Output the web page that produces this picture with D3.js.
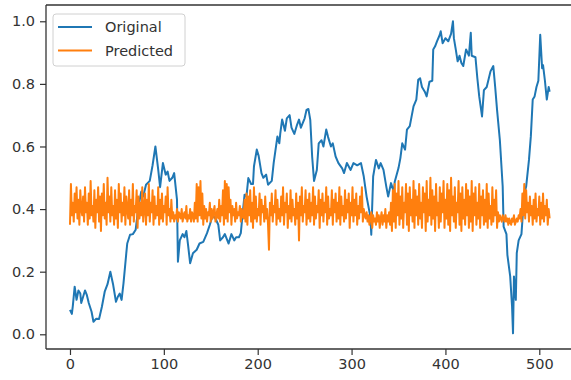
<!DOCTYPE html>
<html>
<head>
<meta charset="utf-8">
<script src="https://cdn.jsdelivr.net/npm/d3@7"></script>
<style>
  body { margin: 0; background: #fff; }
  svg { display: block; font-family: "DejaVu Sans", sans-serif; }
</style>
</head>
<body>
<div id="root"></div>
<script>
// "Original" series: [index, value]
const original = [
  [0,0.078],[2,0.065],[3,0.09],[5,0.152],[7,0.11],[9,0.14],[11,0.13],[12,0.10],[14,0.12],[16,0.14],
  [18,0.125],[20,0.10],[23,0.072],[25,0.04],[28,0.05],[31,0.049],[34,0.088],[37,0.136],[40,0.16],[43,0.2],
  [46,0.158],[49,0.104],[51,0.12],[53,0.13],[55,0.11],[57,0.163],[60,0.259],[61,0.29],[64,0.318],[67,0.32],
  [70,0.334],[73,0.41],[76,0.456],[78,0.44],[81,0.478],[85,0.49],[88,0.54],[91,0.60],[94,0.526],[96,0.47],
  [99,0.547],[102,0.51],[104,0.52],[106,0.49],[109,0.50],[111,0.515],[114,0.43],[115,0.232],[117,0.30],[120,0.32],
  [122,0.31],[124,0.33],[126,0.28],[128,0.227],[131,0.259],[135,0.27],[138,0.29],[142,0.295],[146,0.323],[149,0.35],
  [152,0.38],[155,0.37],[158,0.35],[160,0.30],[163,0.31],[165,0.32],[169,0.29],[172,0.32],[175,0.30],[177,0.31],
  [180,0.31],[182,0.323],[184,0.387],[186,0.446],[188,0.44],[190,0.499],[193,0.48],[195,0.48],[196,0.536],[199,0.59],
  [201,0.57],[204,0.515],[206,0.50],[209,0.51],[211,0.478],[215,0.49],[217,0.547],[221,0.632],[223,0.61],[224,0.64],
  [226,0.686],[227,0.675],[229,0.65],[231,0.69],[234,0.70],[236,0.66],[239,0.64],[242,0.67],[244,0.686],[246,0.66],
  [250,0.69],[252,0.717],[254,0.72],[256,0.685],[258,0.568],[260,0.49],[263,0.525],[265,0.61],[268,0.62],[270,0.60],
  [273,0.654],[275,0.63],[278,0.60],[280,0.61],[283,0.568],[286,0.547],[290,0.53],[292,0.515],[295,0.547],[299,0.525],
  [302,0.547],[306,0.54],[310,0.547],[313,0.504],[316,0.44],[320,0.376],[321,0.318],[323,0.504],[326,0.557],[329,0.53],
  [331,0.547],[334,0.525],[337,0.472],[339,0.44],[342,0.483],[345,0.455],[346,0.487],[350,0.531],[352,0.563],[354,0.61],
  [357,0.59],[359,0.654],[362,0.665],[366,0.728],[369,0.75],[371,0.813],[373,0.818],[375,0.79],[378,0.775],[380,0.76],
  [383,0.807],[386,0.81],[387,0.91],[389,0.92],[391,0.936],[394,0.957],[395,0.968],[397,0.93],[400,0.946],[403,0.936],
  [406,0.96],[408,1.0],[409,0.946],[411,0.91],[413,0.872],[415,0.89],[417,0.867],[419,0.857],[422,0.91],[425,0.89],
  [427,0.963],[428,0.89],[432,0.885],[434,0.818],[436,0.76],[439,0.696],[441,0.78],[444,0.79],[448,0.84],[451,0.857],
  [453,0.79],[455,0.717],[458,0.62],[461,0.472],[462,0.344],[465,0.32],[466,0.254],[469,0.185],[471,0.088],[472,0.003],
  [473,0.185],[475,0.11],[476,0.259],[478,0.30],[481,0.32],[484,0.45],[486,0.472],[489,0.557],[491,0.633],[493,0.75],
  [495,0.76],[497,0.79],[499,0.81],[501,0.957],[503,0.85],[504,0.86],[506,0.81],[508,0.75],[510,0.79],[511,0.775]
];

// "Predicted" series, one value per index 0..511
const predicted = [
  0.35,0.48,0.38,0.42,0.36,0.45,0.39,0.47,0.37,0.43,0.35,0.46,0.40,0.38,0.44,0.36,
  0.47,0.39,0.42,0.35,0.45,0.37,0.49,0.38,0.41,0.36,0.46,0.34,0.43,0.39,0.47,0.36,
  0.44,0.33,0.45,0.38,0.48,0.37,0.42,0.35,0.50,0.39,0.44,0.36,0.47,0.38,0.41,0.35,
  0.46,0.37,0.43,0.34,0.48,0.39,0.45,0.36,0.42,0.38,0.47,0.35,0.44,0.40,0.37,0.46,
  0.35,0.43,0.38,0.48,0.36,0.41,0.39,0.46,0.34,0.44,0.37,0.42,0.38,0.47,0.36,0.40,
  0.45,0.35,0.43,0.38,0.48,0.36,0.42,0.39,0.46,0.35,0.44,0.37,0.41,0.38,0.47,0.35,
  0.43,0.37,0.45,0.36,0.41,0.39,0.44,0.35,0.47,0.38,0.40,0.36,0.43,0.37,0.39,0.36,
  0.38,0.37,0.40,0.36,0.39,0.38,0.37,0.40,0.36,0.38,0.39,0.37,0.41,0.36,0.38,0.37,
  0.40,0.36,0.39,0.38,0.36,0.42,0.37,0.48,0.36,0.47,0.38,0.49,0.37,0.45,0.35,0.41,
  0.37,0.40,0.36,0.39,0.38,0.42,0.36,0.40,0.37,0.39,0.41,0.36,0.38,0.40,0.37,0.43,
  0.36,0.41,0.38,0.46,0.35,0.49,0.37,0.48,0.36,0.47,0.39,0.43,0.35,0.41,0.38,0.40,
  0.36,0.42,0.37,0.39,0.38,0.41,0.36,0.40,0.38,0.37,0.43,0.36,0.45,0.35,0.44,0.38,
  0.46,0.36,0.42,0.34,0.47,0.37,0.44,0.36,0.40,0.38,0.45,0.35,0.43,0.39,0.41,0.36,
  0.44,0.37,0.40,0.35,0.27,0.42,0.38,0.45,0.36,0.41,0.39,0.46,0.35,0.43,0.37,0.40,
  0.36,0.44,0.38,0.47,0.35,0.42,0.39,0.45,0.34,0.41,0.37,0.46,0.36,0.43,0.38,0.40,
  0.35,0.45,0.37,0.42,0.30,0.44,0.38,0.47,0.36,0.41,0.39,0.46,0.35,0.43,0.37,0.45,
  0.36,0.42,0.38,0.47,0.35,0.44,0.37,0.41,0.39,0.46,0.34,0.43,0.38,0.45,0.36,0.42,
  0.39,0.47,0.35,0.44,0.37,0.40,0.38,0.46,0.35,0.43,0.39,0.45,0.36,0.42,0.37,0.47,
  0.35,0.44,0.38,0.41,0.36,0.46,0.37,0.43,0.39,0.45,0.34,0.42,0.38,0.47,0.36,0.43,
  0.38,0.45,0.35,0.41,0.37,0.44,0.39,0.47,0.36,0.40,0.38,0.37,0.39,0.36,0.38,0.35,
  0.37,0.39,0.34,0.38,0.36,0.37,0.35,0.39,0.36,0.38,0.34,0.37,0.39,0.35,0.38,0.36,
  0.40,0.34,0.38,0.36,0.39,0.35,0.42,0.33,0.46,0.36,0.48,0.34,0.45,0.38,0.49,0.35,
  0.44,0.37,0.47,0.34,0.42,0.39,0.48,0.35,0.45,0.33,0.47,0.38,0.43,0.36,0.49,0.34,
  0.46,0.38,0.44,0.35,0.48,0.37,0.42,0.34,0.47,0.39,0.45,0.33,0.49,0.36,0.43,0.38,
  0.50,0.35,0.46,0.37,0.44,0.33,0.48,0.38,0.42,0.34,0.47,0.36,0.45,0.39,0.49,0.34,
  0.43,0.37,0.48,0.35,0.46,0.33,0.50,0.38,0.44,0.36,0.47,0.34,0.42,0.39,0.49,0.35,
  0.45,0.33,0.47,0.37,0.43,0.35,0.48,0.38,0.46,0.34,0.44,0.36,0.49,0.33,0.45,0.38,
  0.47,0.35,0.42,0.37,0.48,0.34,0.44,0.38,0.46,0.35,0.43,0.36,0.48,0.34,0.45,0.37,
  0.41,0.35,0.47,0.36,0.43,0.38,0.46,0.34,0.39,0.36,0.38,0.37,0.36,0.38,0.37,0.36,
  0.38,0.36,0.37,0.35,0.37,0.36,0.35,0.37,0.36,0.38,0.35,0.36,0.37,0.36,0.38,0.37,
  0.40,0.36,0.45,0.38,0.48,0.37,0.46,0.39,0.42,0.36,0.44,0.38,0.41,0.35,0.43,0.37,
  0.45,0.36,0.40,0.38,0.44,0.35,0.42,0.37,0.45,0.36,0.41,0.38,0.43,0.35,0.40,0.37
];

const xTicks = [0, 100, 200, 300, 400, 500];
const yTicks = [0.0, 0.2, 0.4, 0.6, 0.8, 1.0];
const seriesNames = ["Original", "Predicted"];
const seriesColors = ["#1f77b4", "#ff7f0e"];

const W = 571, H = 380;
const plot = { left: 46, right: 573.6, top: 5, bottom: 349 };

const svg = d3.select("#root").append("svg")
  .attr("width", W).attr("height", H);

svg.append("rect").attr("width", W).attr("height", H).attr("fill", "#fff");

const x = d3.scaleLinear().domain([-25.55, 536.55]).range([plot.left, plot.right]);
const y = d3.scaleLinear().domain([-0.047, 1.052]).range([plot.bottom, plot.top]);

const line = d3.line().x(d => x(d[0])).y(d => y(d[1]));

svg.append("path")
  .datum(original)
  .attr("fill", "none")
  .attr("stroke", seriesColors[0])
  .attr("stroke-width", 2)
  .attr("stroke-linejoin", "round")
  .attr("d", line);

svg.append("path")
  .datum(predicted.map((v, i) => [i, v]))
  .attr("fill", "none")
  .attr("stroke", seriesColors[1])
  .attr("stroke-width", 2)
  .attr("stroke-linejoin", "round")
  .attr("d", line);

// axes
const xAxis = svg.append("g")
  .attr("transform", `translate(0,${plot.bottom})`)
  .call(d3.axisBottom(x).tickValues(xTicks).tickSize(6).tickPadding(4).tickFormat(d3.format("d")));
const yAxis = svg.append("g")
  .attr("transform", `translate(${plot.left},0)`)
  .call(d3.axisLeft(y).tickValues(yTicks).tickSize(6).tickPadding(5).tickFormat(d3.format(".1f")));

[xAxis, yAxis].forEach(g => {
  g.select(".domain").remove();
  g.selectAll(".tick line").attr("stroke", "#333").attr("stroke-width", 1.2);
  g.selectAll(".tick text")
    .attr("fill", "#333")
    .style("font-size", "14.5px")
    .style("font-family", "'DejaVu Sans', sans-serif");
});

// spines
const spine = svg.append("g").attr("stroke", "#333").attr("stroke-width", 1.3);
spine.append("line").attr("x1", plot.left).attr("x2", plot.left).attr("y1", plot.top).attr("y2", plot.bottom);
spine.append("line").attr("x1", plot.left).attr("x2", plot.right).attr("y1", plot.bottom).attr("y2", plot.bottom);
spine.append("line").attr("x1", plot.left).attr("x2", plot.right).attr("y1", plot.top).attr("y2", plot.top);
spine.append("line").attr("x1", plot.right).attr("x2", plot.right).attr("y1", plot.top).attr("y2", plot.bottom);

// legend
const legend = svg.append("g").attr("transform", "translate(53,14)");
legend.append("rect")
  .attr("width", 132).attr("height", 52).attr("rx", 3)
  .attr("fill", "#fff").attr("fill-opacity", 0.8)
  .attr("stroke", "#d0d0d0");
seriesNames.forEach((name, i) => {
  const gy = 13 + i * 23.5;
  legend.append("line")
    .attr("x1", 5).attr("x2", 39).attr("y1", gy).attr("y2", gy)
    .attr("stroke", seriesColors[i]).attr("stroke-width", 2);
  legend.append("text")
    .attr("x", 52).attr("y", gy).attr("dy", "0.36em")
    .attr("fill", "#333")
    .style("font-size", "14.5px")
    .text(name);
});
</script>
</body>
</html>
